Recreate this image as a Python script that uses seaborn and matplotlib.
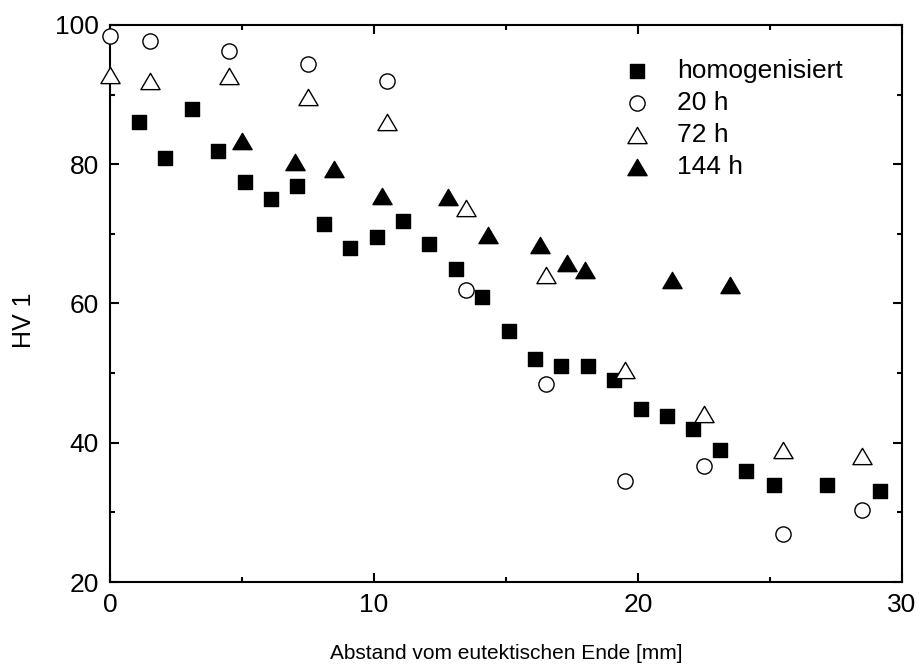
import matplotlib
matplotlib.use("Agg")
import matplotlib.pyplot as plt
import seaborn as sns
import pandas as pd
from matplotlib.ticker import MultipleLocator
from matplotlib.path import Path

# ---- data ----
x_homog = [1.1, 2.1, 3.1, 4.1, 5.1, 6.1, 7.1, 8.1, 9.1, 10.1, 11.1, 12.1, 13.1, 14.1,
           15.1, 16.1, 17.1, 18.1, 19.1, 20.1, 21.1, 22.1, 23.1, 24.1, 25.15, 27.15, 29.15]
y_homog = [86.0, 80.9, 87.9, 81.9, 77.4, 75.0, 76.9, 71.4, 68.0, 69.6, 71.8, 68.5, 64.9, 61.0,
           56.0, 52.0, 51.0, 51.0, 49.0, 44.9, 43.9, 42.0, 38.9, 36.0, 34.0, 34.0, 33.0]

x_20h = [0.0, 1.5, 4.5, 7.5, 10.5, 13.5, 16.5, 19.5, 22.5, 25.5, 28.5]
y_20h = [98.4, 97.7, 96.2, 94.4, 91.9, 61.9, 48.5, 34.5, 36.7, 26.9, 30.4]

x_72h = [0.0, 1.5, 4.5, 7.5, 10.5, 13.5, 16.5, 19.5, 22.5, 25.5, 28.5]
y_72h = [92.8, 92.0, 92.6, 89.7, 86.0, 73.7, 64.1, 50.4, 44.1, 39.0, 38.1]

x_144h = [5.0, 7.0, 8.5, 10.3, 12.8, 14.3, 16.3, 17.3, 18.0, 21.3, 23.5]
y_144h = [83.3, 80.3, 79.3, 75.4, 75.3, 69.9, 68.4, 65.8, 64.8, 63.3, 62.7]

labels = ["homogenisiert", "20 h", "72 h", "144 h"]

frames = []
for lab, xs, ys in zip(labels, [x_homog, x_20h, x_72h, x_144h], [y_homog, y_20h, y_72h, y_144h]):
    frames.append(pd.DataFrame({"x": xs, "y": ys, "series": lab}))
df = pd.concat(frames, ignore_index=True)

sns.set_theme(style="ticks", rc={"text.color": "black", "axes.labelcolor": "black",
                                 "xtick.color": "black", "ytick.color": "black",
                                 "axes.edgecolor": "black"})
plt.rcParams["font.family"] = ["Liberation Sans", "DejaVu Sans"]

fig = plt.figure(figsize=(9.23, 6.68), dpi=100)
ax = fig.add_axes([0.1192, 0.1287, 0.858, 0.834])

tri = Path([(-1.0, -0.85), (1.0, -0.85), (0.0, 0.85), (-1.0, -0.85)], closed=True)
styles = {
    "homogenisiert": dict(marker="s", facecolor="black", s=110),
    "20 h": dict(marker="o", facecolor="white", s=120),
    "72 h": dict(marker=tri, facecolor="white", s=190),
    "144 h": dict(marker=tri, facecolor="black", s=190),
}
for lab in labels:
    st = styles[lab]
    sns.scatterplot(data=df[df.series == lab], x="x", y="y", ax=ax,
                    marker=st["marker"], s=st["s"], color=st["facecolor"],
                    edgecolor="black", linewidth=1.0, label=lab, zorder=3,
                    clip_on=False)

ax.set_xlim(0, 30)
ax.set_ylim(20, 100)
ax.xaxis.set_major_locator(MultipleLocator(10))
ax.xaxis.set_minor_locator(MultipleLocator(5))
ax.yaxis.set_major_locator(MultipleLocator(20))
ax.yaxis.set_minor_locator(MultipleLocator(10))

for sp in ax.spines.values():
    sp.set_linewidth(1.5)
    sp.set_color("black")
    sp.set_visible(True)

ax.tick_params(which="both", direction="in", top=True, right=True, width=1.5,
               color="black", labelcolor="black")
ax.tick_params(which="major", length=6.5, pad=8, labelsize=19)
ax.tick_params(which="minor", length=3.6)

ax.set_xlabel("Abstand vom eutektischen Ende [mm]", fontsize=15, labelpad=19, color="black")
ax.set_ylabel("HV 1", fontsize=18, color="black")
ax.yaxis.set_label_coords(-0.094, 0.47)

leg = ax.legend(loc="upper left", bbox_to_anchor=(0.626, 0.958), frameon=False,
                fontsize=19, handletextpad=0.7, labelspacing=0.3, markerscale=1.0,
                borderaxespad=0, handlelength=1.6, labelcolor="black")

fig.savefig("out.png", dpi=100)
